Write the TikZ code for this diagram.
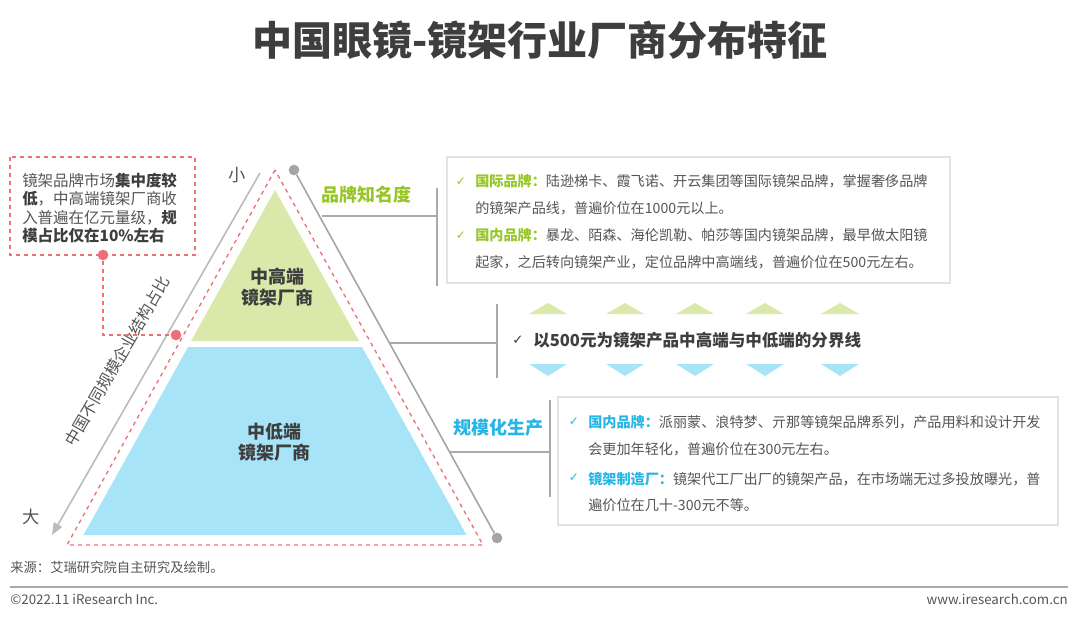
\documentclass[tikz,border=0pt]{standalone}
\usepackage{fontspec}
\setmainfont{Noto Sans CJK SC}
\newfontfamily\symfont{DejaVu Sans}
\usepackage{xcolor}
\usetikzlibrary{arrows.meta}
\definecolor{TitleGray}{RGB}{62,62,62}
\definecolor{BodyGray}{RGB}{85,85,85}
\definecolor{LineGray}{RGB}{170,170,170}
\definecolor{DotGray}{RGB}{165,165,165}
\definecolor{BrandGreen}{RGB}{150,198,40}
\definecolor{PaleGreen}{RGB}{218,232,170}
\definecolor{ScaleCyan}{RGB}{38,182,230}
\definecolor{PaleBlue}{RGB}{168,228,248}
\definecolor{NotePink}{RGB}{236,112,122}
\tikzset{
  tiername/.style={font=\fontsize{13.5}{15.5}\selectfont\bfseries, text=TitleGray, align=center},
  axislabel/.style={font=\fontsize{13}{15}\selectfont, text=BodyGray},
  headlabel/.style={font=\fontsize{13.5}{16}\selectfont\bfseries},
  itemtxt/.style={anchor=west, inner sep=0pt, align=left, text=BodyGray,
    font=\fontsize{10.6}{20}\selectfont},
  tick/.style={font=\symfont\fontsize{9}{10}\selectfont, inner sep=0pt},
  infobox/.style={draw=gray!22, fill=white, line width=0.8pt},
  bracket/.style={draw=LineGray, line width=1.1pt},
  pinkdot/.style={circle, fill=NotePink, inner sep=0pt, minimum size=8pt},
  greydot/.style={circle, fill=DotGray, inner sep=0pt, minimum size=8pt},
  footnote/.style={font=\fontsize{10}{12}\selectfont, text=BodyGray, inner sep=0pt},
}
\begin{document}
\begin{tikzpicture}[x=0.75pt, y=-0.75pt]
  \useasboundingbox (0,0) rectangle (1080,621);
  % title
  \node[font=\fontsize{30}{36}\selectfont\bfseries, text=TitleGray] (title) at (540,40) {中国眼镜-镜架行业厂商分布特征};

  % pyramid
  \fill[PaleGreen] (275,190) -- (191,341) -- (359,341) -- cycle;
  \fill[PaleBlue] (188,347) -- (362,347) -- (466.5,535) -- (83.5,535) -- cycle;
  \draw[NotePink, dashed, line width=1pt] (275,170) -- (67,545) -- (483,545) -- cycle;
  \node[tiername] (upper) at (277,287) {中高端\\镜架厂商};
  \node[tiername] (lower) at (274,442) {中低端\\镜架厂商};

  % left axis
  \coordinate (ltop) at (260,173);
  \coordinate (lbot) at (52,535);
  \draw[LineGray!80, line width=1.2pt, -{Triangle[length=9pt, width=7pt]}] (ltop) -- (lbot);
  \node[axislabel] (small) at (237,175) {小};
  \node[axislabel] (big) at (31,517) {大};
  \node[font=\fontsize{12}{14}\selectfont, text=BodyGray, rotate=60] (axis) at (117,361) {中国不同规模企业结构占比};

  % right axis
  \node[greydot] (rtop) at (294,170) {};
  \node[greydot] (rbot) at (497,538) {};
  \draw[DotGray, line width=1.2pt] (rtop) -- (rbot);

  % note box
  \draw[NotePink, dashed, line width=0.9pt] (10,157) rectangle (195,255);
  \node[anchor=west, inner sep=0pt, align=left, text=BodyGray, font=\fontsize{11.6}{13.7}\selectfont] (note) at (22,208)
    {镜架品牌市场\textbf{\color{TitleGray}集中度较}\\\textbf{\color{TitleGray}低}，中高端镜架厂商收\\入普遍在亿元量级，\textbf{\color{TitleGray}规}\\\textbf{\color{TitleGray}模占比仅在10\%左右}};
  \node[pinkdot] (notedot) at (103,255) {};
  \node[pinkdot] (edgedot) at (176,335) {};
  \draw[NotePink, dashed, line width=0.9pt] (notedot) |- (edgedot);

  % brand awareness
  \node[headlabel, text=BrandGreen] (brand) at (366,195) {品牌知名度};
  \draw[bracket] (322,216) -- (437,216);
  \draw[bracket] (437,188) -- (437,286);
  \draw[infobox] (447,157) rectangle (950,283);
  \node[tick, text=BrandGreen] (ck1) at (461,182) {✓};
  \node[itemtxt] (intl) at (475,195)
    {\textbf{\color{BrandGreen}国际品牌：}陆逊梯卡、霞飞诺、开云集团等国际镜架品牌，掌握奢侈品牌\\的镜架产品线，普遍价位在1000元以上。};
  \node[tick, text=BrandGreen] (ck2) at (461,236) {✓};
  \node[itemtxt] (dom) at (475,249)
    {\textbf{\color{BrandGreen}国内品牌：}暴龙、陌森、海伦凯勒、帕莎等国内镜架品牌，最早做太阳镜\\起家，之后转向镜架产业，定位品牌中高端线，普遍价位在500元左右。};

  % dividing line
  \draw[bracket] (389,343) -- (497,343);
  \draw[bracket] (497,304) -- (497,378);
  \foreach \cx in {548,625,695,765,840} {
    \fill[PaleGreen] (\cx-19,314) -- (\cx,303) -- (\cx+19,314) -- cycle;
    \fill[PaleBlue] (\cx-19,364) -- (\cx,376) -- (\cx+19,364) -- cycle;
  }
  \node[tick, text=TitleGray, font=\symfont\fontsize{10}{11}\selectfont] (ck3) at (518,340) {✓};
  \node[anchor=west, inner sep=0pt, text=TitleGray, font=\fontsize{12.4}{14}\selectfont\bfseries] (split) at (533,340) {以500元为镜架产品中高端与中低端的分界线};

  % mass production
  \node[headlabel, text=ScaleCyan] (mass) at (498,428) {规模化生产};
  \draw[bracket] (450,452) -- (550,452);
  \draw[bracket] (550,400) -- (550,497);
  \draw[infobox] (558,397) rectangle (1058,525);
  \node[tick, text=ScaleCyan] (ck4) at (574,422) {✓};
  \node[itemtxt] (local) at (588,436)
    {\textbf{\color{ScaleCyan}国内品牌：}派丽蒙、浪特梦、亓那等镜架品牌系列，产品用料和设计开发\\会更加年轻化，普遍价位在300元左右。};
  \node[tick, text=ScaleCyan] (ck5) at (574,478) {✓};
  \node[itemtxt] (oem) at (588,492)
    {\textbf{\color{ScaleCyan}镜架制造厂：}镜架代工厂出厂的镜架产品，在市场端无过多投放曝光，普\\遍价位在几十-300元不等。};

  % footer
  \node[footnote, anchor=west] (source) at (10,567) {来源：艾瑞研究院自主研究及绘制。};
  \draw[LineGray, line width=1.5pt] (10,587) -- (1068,587);
  \node[footnote, anchor=west] (copy) at (10,599) {©2022.11 iResearch Inc.};
  \node[footnote, anchor=east] (site) at (1068,599) {www.iresearch.com.cn};
\end{tikzpicture}
\end{document}
